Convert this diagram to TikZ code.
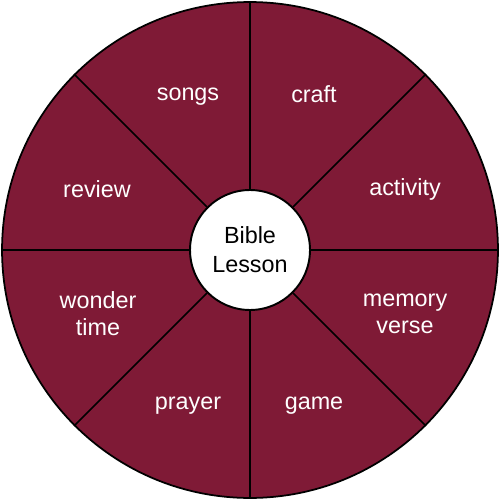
\documentclass[tikz,border=0pt]{standalone}
\usepackage{fontspec}
\setmainfont{Liberation Sans}
\definecolor{wine}{HTML}{7F1A36}
\tikzset{
  segtext/.style={text=white, align=center, font=\fontsize{13.3}{15.5}\selectfont},
}
\begin{document}
\begin{tikzpicture}[x=0.02cm, y=-0.02cm]
  \useasboundingbox (0,0) rectangle (500,500);

  % Wheel and hub
  \node[circle, draw, fill=wine, line width=1pt, inner sep=0pt,
        minimum size=9.92cm] (wheel) at (250,250) {};
  \node[circle, draw, fill=white, line width=1.1pt, inner sep=0pt,
        minimum size=2.4cm, align=center,
        font=\fontsize{13.3}{16.4}\selectfont] (lesson) at (250,250) {Bible\\Lesson};

  % Spokes
  \foreach \a in {0,45,...,315}
    \draw[line width=0.9pt] (lesson.\a) -- (wheel.\a);

  % Segment labels
  \node[segtext] (songs) at (188,97) {songs};
  \node[segtext] (craft) at (314,94) {craft};
  \node[segtext] (review) at (97,189) {review};
  \node[segtext] (activity) at (405,189) {activity};
  \node[segtext] (wonder) at (98,314) {wonder\\time};
  \node[segtext] (memory) at (405,314) {memory\\verse};
  \node[segtext] (prayer) at (188,406) {prayer};
  \node[segtext] (game) at (314,406) {game};

\end{tikzpicture}
\end{document}
